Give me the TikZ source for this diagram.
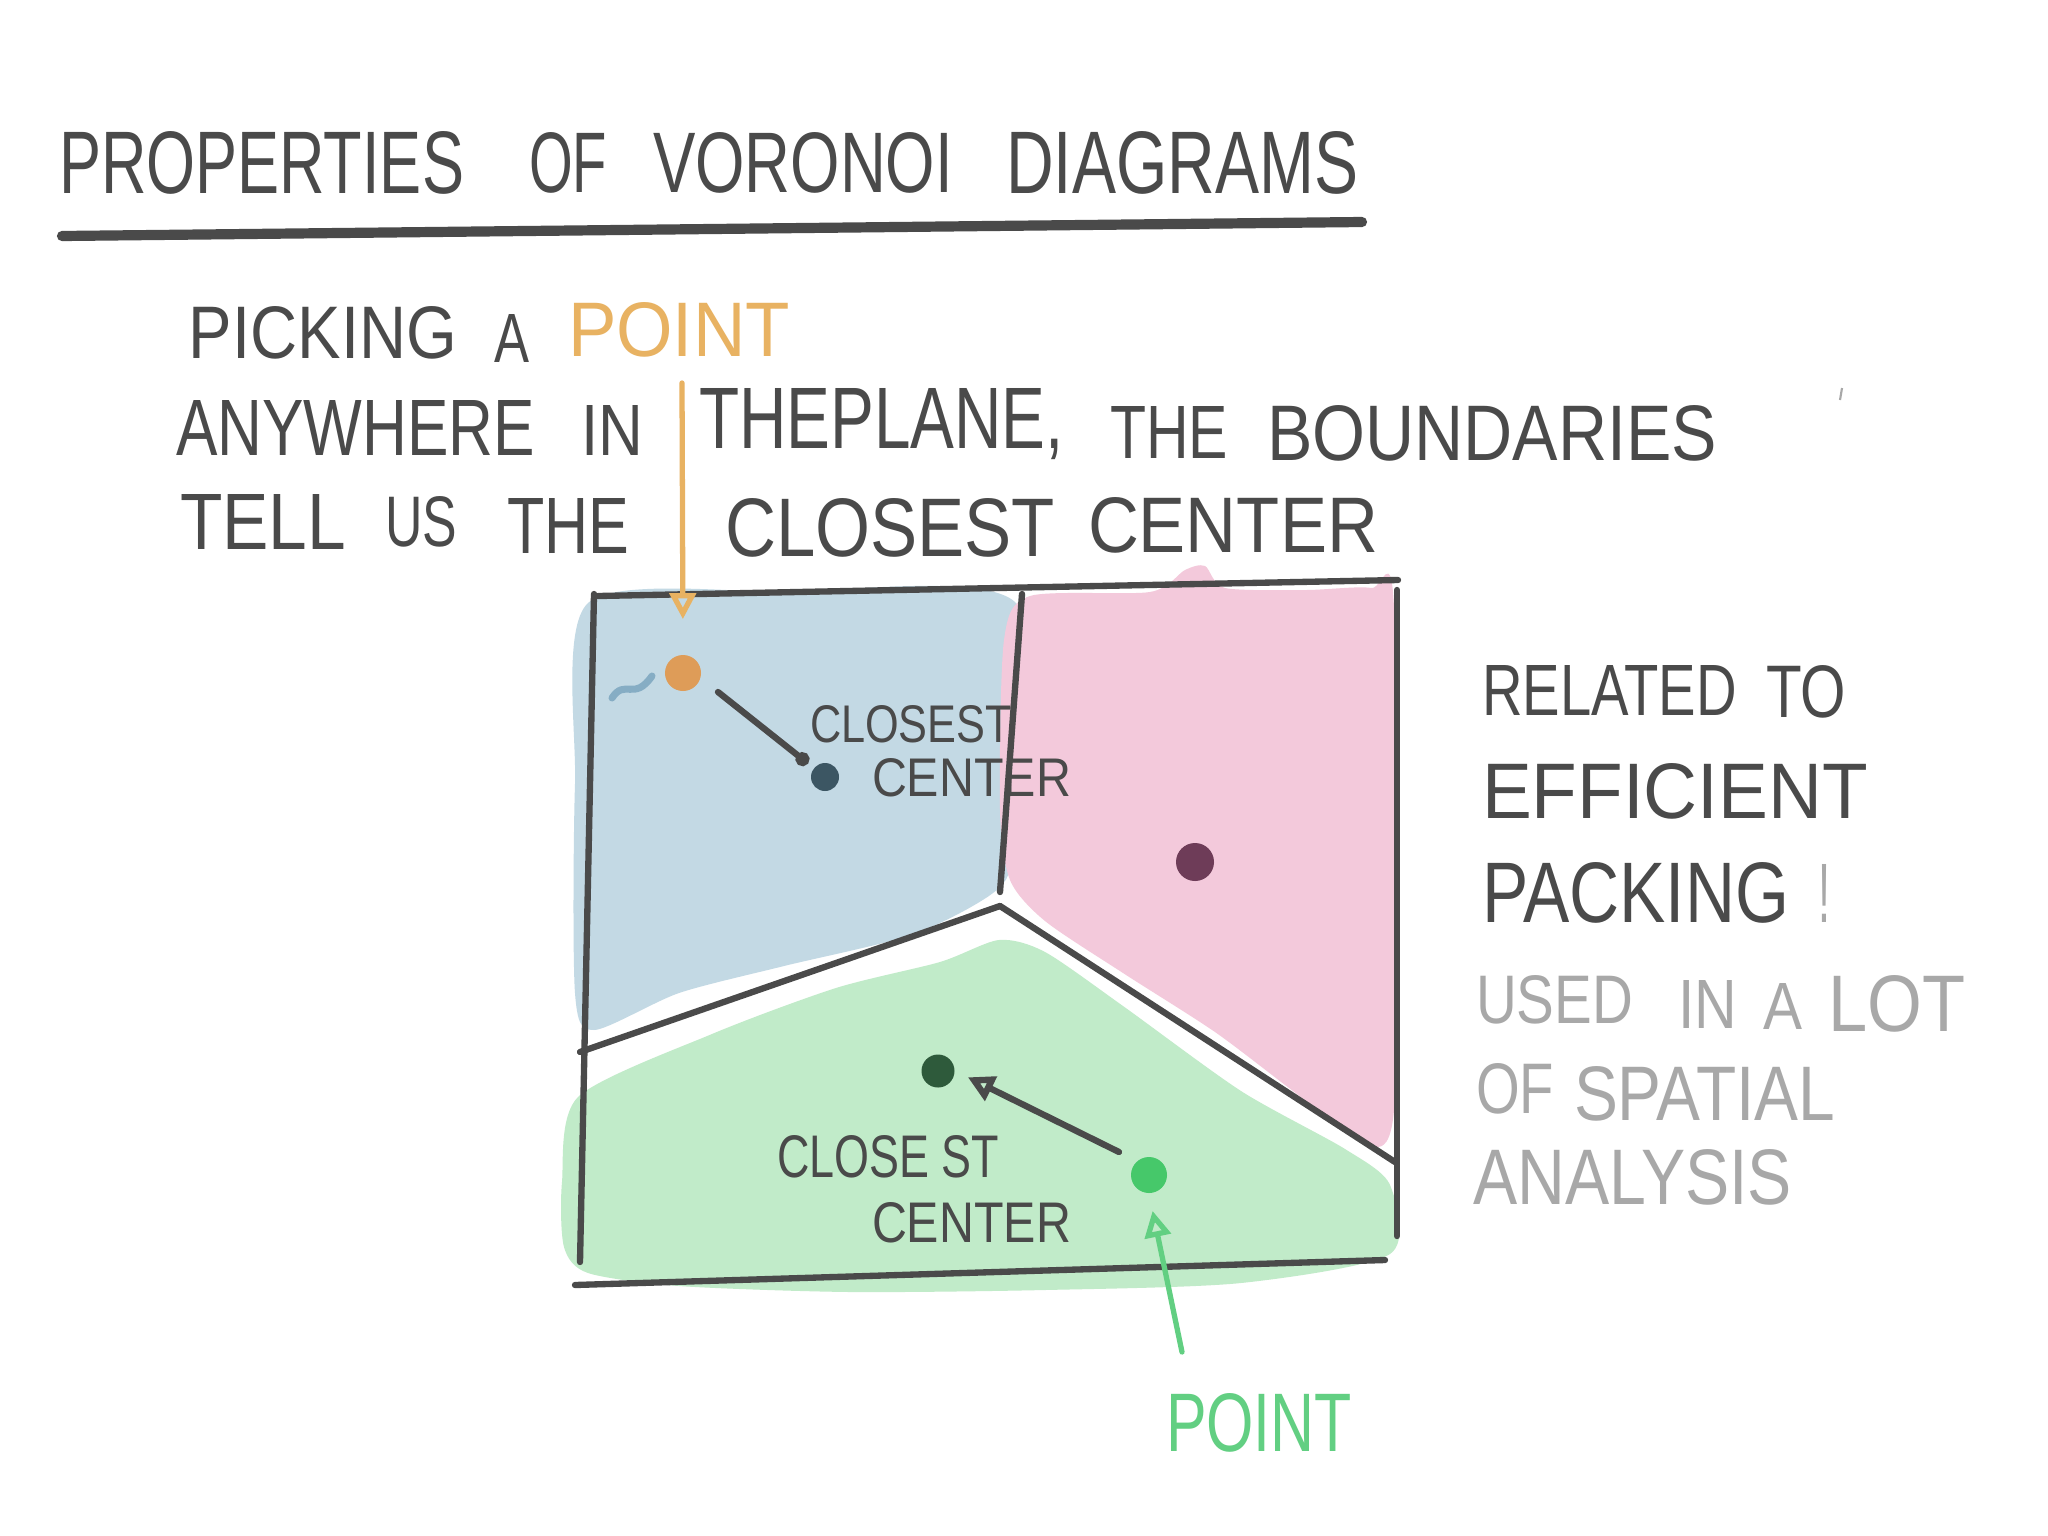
\documentclass[tikz,border=0pt]{standalone}
\usepackage{fontspec}
\setmainfont{Liberation Sans}
\usetikzlibrary{arrows.meta}
\newlength\pxu \setlength\pxu{0.01cm}
% text squeezed to a given width and cap height (both in drawing units)
\newcommand\hw[3]{\resizebox{#1\pxu}{#2\pxu}{#3}}
\definecolor{ink}{HTML}{4A4A4A}
\definecolor{inkgray}{HTML}{A8A8A8}
\definecolor{orangeink}{HTML}{E8B262}
\definecolor{orangedot}{HTML}{DE9C58}
\definecolor{bluefill}{HTML}{C3D9E4}
\definecolor{pinkfill}{HTML}{F3C9DB}
\definecolor{greenfill}{HTML}{C1EBC9}
\definecolor{bluedot}{HTML}{3C5663}
\definecolor{plumdot}{HTML}{6E3C58}
\definecolor{greendot}{HTML}{2E5A3B}
\definecolor{greenink}{HTML}{62CF82}
\definecolor{greenpt}{HTML}{46C86A}
\definecolor{squig}{HTML}{86ADC4}
\tikzset{
  lbl/.style={anchor=west, inner sep=0pt, outer sep=0pt, text=ink},
  glbl/.style={lbl, text=inkgray},
  edge/.style={draw=ink, line width=1.8pt, line cap=round},
  site/.style={circle, inner sep=0pt, minimum size=#1},
  openhead/.style={-{Triangle[open, length=0.26cm, width=0.26cm]}},
  pointer/.style={line width=1.5pt, line cap=round},
}
\begin{document}
\begin{tikzpicture}[x=0.01cm, y=-0.01cm]
\useasboundingbox (0,0) rectangle (2048,1536);
\fill[white] (0,0) rectangle (2048,1536);

% ---- title ----
\node[lbl] (tA) at (59,163)  {\hw{405}{62}{PROPERTIES}};
\node[lbl] (tB) at (529,163) {\hw{78}{60}{OF}};
\node[lbl] (tC) at (653,163) {\hw{300}{60}{VORONOI}};
\node[lbl] (tD) at (1006,163) {\hw{352}{62}{DIAGRAMS}};
\draw[draw=ink, line width=2.9pt, line cap=round] (62,236) -- (1362,222);

% ---- explanation ----
\node[lbl] (p1) at (189,333) {\hw{268}{52}{PICKING}};
\node[lbl] (p2) at (494,338) {\hw{35}{48}{A}};
\node[lbl, text=orangeink] (p3) at (568,330) {\hw{222}{54}{POINT}};
\node[lbl] (p4) at (176,428) {\hw{359}{55}{ANYWHERE}};
\node[lbl] (p5) at (581,430) {\hw{62}{50}{IN}};
\node[lbl] (p6) at (699,424) {\hw{365}{60}{THEPLANE,}};
\node[lbl] (p7) at (1110,432) {\hw{118}{52}{THE}};
\node[lbl] (p8) at (1267,433) {\hw{450}{55}{BOUNDARIES}};
\node[lbl] (p9) at (180,522) {\hw{166}{55}{TELL}};
\node[lbl] (p10) at (385,522) {\hw{72}{50}{US}};
\node[lbl] (p11) at (507,526) {\hw{122}{55}{THE}};
\node[lbl] (p12) at (725,528) {\hw{330}{58}{CLOSEST}};
\node[lbl] (p13) at (1088,525) {\hw{290}{55}{CENTER}};
\draw[inkgray, line width=0.6pt] (1842,388) -- (1840,400);

% ---- cell colours ----
\fill[bluefill] plot[smooth cycle, tension=0.45] coordinates {
  (588,603) (784,592) (1016,603) (1012,836) (999,888) (914,934) (784,966)
  (679,993) (594,1030) (575,993) (575,784)};
\fill[pinkfill] plot[smooth cycle, tension=0.45] coordinates {
  (1004,640) (1030,596) (1150,592) (1185,570) (1205,566) (1225,588) (1306,590)
  (1371,588) (1394,608) (1394,1110) (1350,1132) (1293,1091) (1215,1032)
  (1123,973) (1045,921) (1010,880) (1000,810)};
\fill[greenfill] plot[smooth cycle, tension=0.45] coordinates {
  (562,1182) (578,1097) (712,1034) (836,988) (940,962) (999,940) (1045,952)
  (1123,1006) (1241,1091) (1345,1149) (1390,1185) (1390,1254) (1241,1283)
  (1045,1290) (849,1292) (679,1286) (588,1273) (564,1247)};

% ---- frame and cell boundaries ----
\coordinate (j) at (1000,906);
\draw[edge] (598,596) -- (1398,580);
\draw[edge] (594,594) -- (580,1262);
\draw[edge] (575,1285) -- (1385,1260);
\draw[edge] (1397,590) -- (1397,1236);
\draw[edge] (1022,594) -- (1000,892);
\draw[edge] (j) -- (580,1052);
\draw[edge] (j) -- (1395,1162);

% ---- sites and the picked points ----
\draw[squig, line width=2pt, line cap=round] (612,698) .. controls (625,678) and (634,702) .. (652,676);
\node[site=0.36cm, fill=orangedot] (qo) at (683,673) {};
\node[site=0.28cm, fill=bluedot] (cb) at (825,777) {};
\node[site=0.38cm, fill=plumdot] (cp) at (1195,862) {};
\node[site=0.33cm, fill=greendot] (cg) at (938,1071) {};
\node[site=0.36cm, fill=greenpt] (qg) at (1149,1175) {};

\node[lbl] (l1) at (810,724) {\hw{202}{37}{CLOSEST}};
\node[lbl] (l2) at (872,778) {\hw{199}{38}{CENTER}};
\node[lbl] (l3) at (777,1157) {\hw{222}{42}{CLOSE ST}};
\node[lbl] (l4) at (872,1223) {\hw{199}{40}{CENTER}};

% ---- pointers ----
\coordinate (os) at (682,383);
\draw[pointer, orangeink, openhead, shorten >=10pt] (os) -- (qo.north);
\coordinate (bs) at (718,692);
\draw[pointer, ink, line width=1.8pt, -{Circle[length=0.14cm]}, shorten >=2pt] (bs) -- (cb);
\coordinate (gs) at (1119,1152);
\draw[pointer, ink, line width=1.8pt, openhead, shorten >=4pt] (gs) -- (cg.east);
\coordinate (ps) at (1182,1352);
\draw[pointer, greenink, openhead, shorten >=5pt] (ps) -- (qg.south);
\node[lbl, text=greenink] (pt) at (1166,1423) {\hw{186}{58}{POINT}};

% ---- side notes ----
\node[lbl] (r1) at (1482,690) {\hw{255}{50}{RELATED}};
\node[lbl] (r2) at (1766,692) {\hw{80}{52}{TO}};
\node[lbl] (r3) at (1482,791) {\hw{386}{55}{EFFICIENT}};
\node[lbl] (r4) at (1482,893) {\hw{307}{60}{PACKING}};
\node[glbl] (r5) at (1818,893) {\hw{12}{58}{!}};
\node[glbl] (r6) at (1476,1000) {\hw{157}{48}{USED}};
\node[glbl] (r7) at (1678,1004) {\hw{59}{48}{IN}};
\node[glbl] (r8) at (1763,1006) {\hw{39}{46}{A}};
\node[glbl] (r9) at (1828,1004) {\hw{137}{56}{LOT}};
\node[glbl] (r10) at (1476,1089) {\hw{78}{50}{OF}};
\node[glbl] (r11) at (1574,1094) {\hw{261}{54}{SPATIAL}};
\node[glbl] (r12) at (1473,1177) {\hw{319}{55}{ANALYSIS}};
\end{tikzpicture}
\end{document}
